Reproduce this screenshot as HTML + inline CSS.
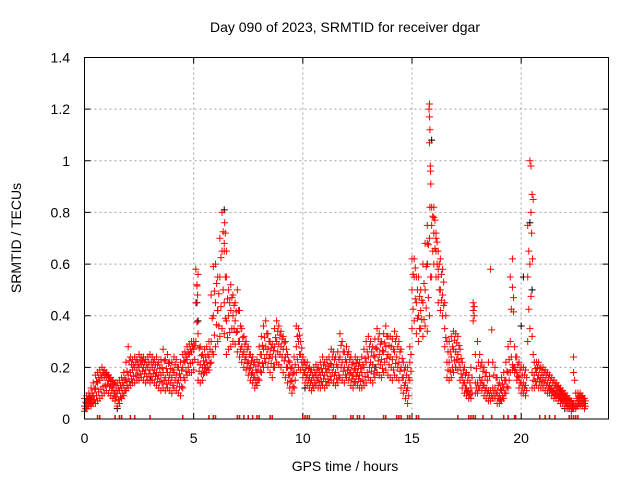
<!DOCTYPE html>
<html><head><meta charset="utf-8"><style>
body{margin:0;background:#fff}
svg{display:block;font-family:"Liberation Sans",sans-serif}
</style></head><body>
<svg id="chart" width="640" height="480" viewBox="0 0 640 480" xmlns="http://www.w3.org/2000/svg">
<rect width="640" height="480" fill="#fff"/>
<text x="345" y="32" font-size="14" text-anchor="middle">Day 090 of 2023, SRMTID for receiver dgar</text>
<text transform="translate(21,238) rotate(-90)" font-size="14" text-anchor="middle">SRMTID / TECUs</text>
<text x="345" y="471" font-size="14" text-anchor="middle">GPS time / hours</text>
<g id="grid"></g>
<g id="ticks"></g>
<g id="black"></g>
<g id="red"></g>
<rect x="84.5" y="57.5" width="524" height="361.5" fill="none" stroke="#000" stroke-width="1"/>
</svg>
<script>
const xTicks=[0,5,10,15,20];
const yTicks=[0,0.2,0.4,0.6,0.8,1,1.2,1.4];
const yTickLabels=["0","0.2","0.4","0.6","0.8","1","1.2","1.4"];
const redLow=[.03,.04,.05,.05,.06,.06,.07,.08,.09,.10,.11,.10,.09,.08,.07,.05,.06,.08,.09,.11,.12,.13,.14,.14,.15,.15,.16,.15,.14,.15,.14,.15,.14,.13,.12,.11,.12,.11,.12,.11,.10,.12,.11,.10,.09,.12,.15,.17,.18,.18,.19,.30,.15,.14,.15,.18,.18,.19,.22,.25,.28,.30,.32,.35,.33,.25,.27,.28,.30,.29,.26,.24,.22,.20,.19,.17,.15,.14,.12,.13,.15,.18,.20,.22,.20,.18,.16,.20,.22,.21,.20,.18,.16,.14,.12,.10,.12,.18,.20,.19,.16,.14,.13,.12,.11,.12,.13,.12,.12,.13,.12,.13,.14,.15,.14,.13,.14,.16,.15,.14,.16,.15,.13,.12,.14,.13,.12,.12,.13,.14,.16,.15,.14,.16,.18,.17,.16,.18,.19,.17,.16,.15,.17,.16,.15,.12,.10,.08,.06,.15,.35,.38,.33,.30,.35,.32,.36,.34,.40,.55,.60,.55,.45,.42,.40,.28,.16,.15,.16,.18,.20,.19,.15,.12,.10,.09,.08,.08,.38,.10,.10,.12,.11,.09,.08,.07,.07,.08,.08,.06,.06,.07,.08,.10,.12,.18,.19,.18,.15,.12,.10,.10,.09,.30,.35,.12,.12,.13,.12,.12,.12,.11,.10,.10,.09,.08,.08,.07,.06,.06,.05,.04,.04,.03,.04,.04,.05,.05,.05,.04];
const redMid=[.05,.06,.07,.08,.09,.12,.14,.15,.16,.16,.16,.15,.13,.12,.10,.10,.11,.12,.13,.15,.17,.18,.19,.20,.19,.20,.21,.20,.19,.20,.19,.20,.19,.18,.17,.17,.18,.16,.18,.17,.16,.18,.17,.15,.16,.20,.22,.23,.25,.26,.27,.45,.22,.21,.20,.21,.22,.24,.30,.40,.45,.42,.55,.65,.45,.38,.40,.42,.40,.38,.34,.30,.28,.26,.24,.22,.20,.18,.16,.18,.22,.25,.27,.28,.27,.25,.24,.28,.30,.29,.28,.27,.24,.20,.17,.15,.18,.28,.30,.25,.20,.18,.17,.16,.15,.16,.17,.16,.17,.18,.17,.18,.19,.21,.20,.18,.20,.24,.22,.20,.22,.20,.18,.17,.19,.18,.17,.18,.20,.22,.24,.22,.21,.24,.27,.25,.23,.26,.28,.25,.24,.23,.26,.24,.22,.20,.16,.14,.12,.22,.50,.55,.45,.40,.42,.45,.50,.60,.70,.75,.72,.65,.55,.50,.48,.35,.22,.22,.24,.27,.26,.25,.20,.16,.14,.12,.11,.12,.42,.14,.14,.16,.15,.13,.12,.11,.11,.12,.12,.10,.09,.11,.12,.15,.18,.30,.21,.20,.18,.16,.14,.14,.13,.55,.60,.18,.17,.18,.17,.16,.16,.15,.14,.13,.12,.11,.11,.10,.09,.08,.07,.06,.06,.05,.06,.06,.07,.07,.07,.06];
const redHigh=[.08,.09,.10,.12,.14,.17,.18,.19,.20,.19,.18,.17,.16,.15,.14,.14,.15,.16,.18,.22,.28,.24,.23,.24,.23,.25,.24,.24,.23,.24,.25,.24,.23,.24,.22,.23,.27,.23,.25,.22,.22,.24,.23,.20,.22,.25,.26,.28,.29,.30,.30,.58,.33,.28,.25,.27,.28,.30,.48,.59,.60,.55,.70,.80,.65,.55,.50,.52,.48,.45,.50,.42,.35,.32,.30,.28,.25,.24,.22,.23,.28,.32,.36,.38,.33,.30,.29,.35,.38,.36,.34,.32,.30,.25,.22,.20,.24,.36,.35,.30,.24,.22,.22,.20,.19,.20,.21,.20,.22,.24,.22,.23,.24,.27,.26,.24,.26,.33,.30,.26,.28,.26,.24,.22,.24,.23,.22,.24,.27,.30,.32,.30,.28,.31,.35,.33,.30,.33,.36,.32,.32,.31,.34,.32,.30,.27,.22,.20,.20,.28,.62,.62,.55,.55,.50,.60,.68,.75,1.22,.82,.82,.72,.65,.62,.58,.45,.30,.30,.32,.34,.33,.32,.27,.22,.20,.18,.17,.20,.45,.25,.30,.25,.22,.20,.18,.22,.58,.22,.20,.16,.14,.16,.18,.22,.28,.55,.62,.28,.24,.22,.20,.20,.19,.75,1.00,.32,.22,.22,.22,.20,.20,.19,.18,.17,.16,.15,.14,.13,.12,.11,.10,.09,.08,.07,.24,.10,.10,.10,.09,.08];
const spikeHours=[15.78,15.8,15.82,15.8,15.84,15.86,15.82,6.42,6.45,6.5,6.4,5.15,5.2,5.18,20.45,20.5,20.55,20.48,20.52,19.6,19.65,15.7,16.0,16.1,22.4,16.2];
const spikeValues=[1.2,1.17,1.12,1.07,0.98,0.91,0.82,0.76,0.72,0.65,0.68,0.52,0.56,0.48,0.98,0.87,0.85,0.72,0.62,0.51,0.47,0.68,0.78,0.70,0.18,0.58];
const blackHours=[0.2,1.5,3.0,5.15,5.2,6.1,6.4,10.1,13.3,15.7,15.9,17.0,20.0,20.1,20.4,20.5,22.0];
const blackValues=[0.08,0.04,0.15,0.45,0.38,0.42,0.81,0.12,0.20,0.60,1.08,0.20,0.36,0.55,0.76,0.50,0.04];
const zeroHours=[0.6,0.7,1.4,1.6,1.7,2.1,2.3,3.0,4.5,5.7,5.9,6.0,7.0,7.1,7.3,7.5,7.7,7.9,8.0,8.5,8.6,10.0,10.1,10.2,10.3,11.4,11.5,12.2,12.3,12.5,12.6,12.8,13.7,13.8,14.3,14.4,14.5,14.8,14.9,15.2,15.3,17.1,17.6,17.7,17.8,17.9,18.25,18.65,19.2,19.4,19.7,19.75,20.85,21.1,21.3,21.55,22.2,22.3,22.4,22.5,22.6];
const X0=84.5,X1=608.5,Y0=419,Y1=57.5;
const sx=h=>X0+(X1-X0)*h/24;
const sy=v=>Y0-(Y0-Y1)*v/1.4;
const NS="http://www.w3.org/2000/svg";
function mk(tag,parent,attrs){const e=document.createElementNS(NS,tag);for(const k in attrs)e.setAttribute(k,attrs[k]);parent.appendChild(e);return e;}
const grid=document.getElementById('grid'),ticks=document.getElementById('ticks');
xTicks.forEach(t=>{
  const x=sx(t);
  if(t>0){const g=mk('line',grid,{x1:x,x2:x,y1:Y1,y2:Y0,stroke:'#a0a0a0','stroke-dasharray':'2,3'});
  
  }
  const tk=mk('path',ticks,{d:`M${x},${Y0}v-6M${x},${Y1}v6`,stroke:'#000'});
  
  
  const lb=mk('text',ticks,{x:x,y:443,'font-size':14,'text-anchor':'middle'});
  lb.textContent=String(t);
  
  
});
yTicks.forEach((t,i)=>{
  const y=sy(t);
  if(t>0&&t<1.4){const g=mk('line',grid,{x1:X0,x2:X1,y1:y,y2:y,stroke:'#a0a0a0','stroke-dasharray':'2,3'});
  
  }
  const tk=mk('path',ticks,{d:`M${X0},${y}h6M${X1},${y}h-6`,stroke:'#000'});
  
  
  const lb=mk('text',ticks,{x:70,y:y+5,'font-size':14,'text-anchor':'end'});
  lb.textContent=yTickLabels[i];
  
  
});
function plus(parent,h,v,col){
  const x=sx(h),y=sy(v);
  const p=mk('path',parent,{d:`M${x-3.5},${y}h7M${x},${y-3.5}v7`,stroke:col,'stroke-width':1});
  
  
}
const blk=document.getElementById('black'),red=document.getElementById('red');
blackHours.forEach((h,i)=>plus(blk,h,blackValues[i],'#000'));
[redLow,redMid,redHigh].forEach(arr=>arr.forEach((v,i)=>{plus(red,i*0.1,v,'#f00');}));
redLow.forEach((v,i)=>{plus(red,i*0.1+0.05,(v+redMid[i])/2,'#f00');plus(red,i*0.1+0.05,(redMid[i]+redHigh[i])/2,'#f00');});
spikeHours.forEach((h,i)=>plus(red,h,spikeValues[i],'#f00'));
zeroHours.forEach(h=>{
  const x=sx(h);
  const z=mk('path',red,{d:`M${x},${Y0}v-4`,stroke:'#f00','stroke-width':1.5});
  
  
});
</script>
</body></html>
